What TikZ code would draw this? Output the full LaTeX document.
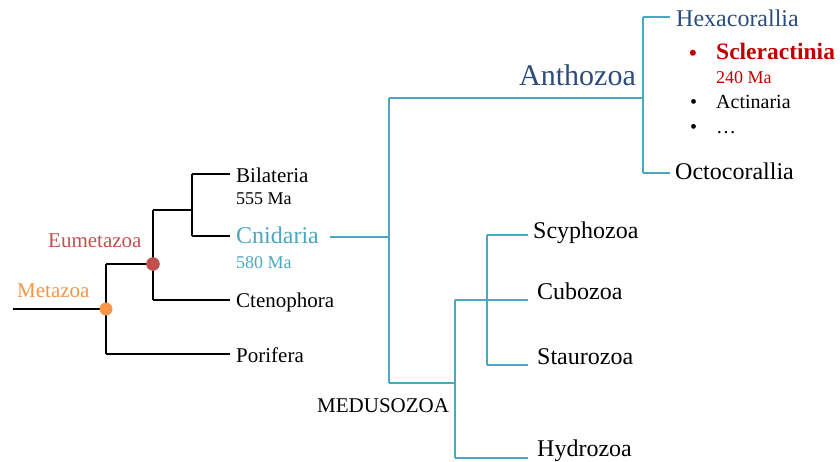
\documentclass[tikz,border=0pt]{standalone}
\usepackage{fontspec}
\setmainfont{Liberation Serif}
\definecolor{tealc}{HTML}{4AA8BE}
\definecolor{navyc}{HTML}{2C4C7E}
\definecolor{redc}{HTML}{C00000}
\definecolor{eumc}{HTML}{C0504D}
\definecolor{metc}{HTML}{F79646}
\begin{document}
\begin{tikzpicture}[x=1pt,y=-1pt,
  blk/.style={draw=black,line width=2.7pt},
  tel/.style={draw=tealc,line width=2.9pt},
  lbl/.style={anchor=base west,inner sep=0pt,font=\fontsize{21}{25}\selectfont},
  big/.style={anchor=base west,inner sep=0pt,font=\fontsize{24}{28}\selectfont},
  sml/.style={anchor=base west,inner sep=0pt,font=\fontsize{18}{22}\selectfont},
  bul/.style={anchor=base west,inner sep=0pt,font=\fontsize{20}{24}\selectfont},
  bulb/.style={anchor=base west,inner sep=0pt,font=\fontsize{22}{26}\selectfont\bfseries}]
\useasboundingbox (0,0) rectangle (840,461);
% junction coordinates
\coordinate (root) at (13,309);
\coordinate (meta) at (106,309);
\coordinate (metaT) at (106,264);
\coordinate (metaB) at (106,354);
\coordinate (eum) at (153,264);
\coordinate (eumT) at (153,210);
\coordinate (eumB) at (153,300);
\coordinate (bc) at (192,210);
\coordinate (bcT) at (192,174);
\coordinate (bcB) at (192,236);
\coordinate (bilE) at (230,174);
\coordinate (cniE) at (230,236);
\coordinate (cteE) at (230,300);
\coordinate (porE) at (230,354);
% cnidaria
\coordinate (cniS) at (330,237);
\coordinate (cn) at (389,237);
\coordinate (cnT) at (389,98);
\coordinate (cnB) at (389,383);
\coordinate (anth) at (643,98);
\coordinate (anthT) at (643,17);
\coordinate (anthB) at (643,173);
\coordinate (hexE) at (670,17);
\coordinate (octE) at (670,173);
\coordinate (med) at (455,383);
\coordinate (medT) at (455,300);
\coordinate (medB) at (455,458);
\coordinate (hydE) at (528,458);
\coordinate (cubE) at (528,300);
\coordinate (sc) at (487,300);
\coordinate (scT) at (487,235);
\coordinate (scB) at (487,365);
\coordinate (scyE) at (528,235);
\coordinate (stauE) at (528,365);
% black tree
\draw[blk] (root) -- (meta);
\draw[blk] (metaT) -- (metaB);
\draw[blk] (metaT) -- (eum);
\draw[blk] (metaB) -- (porE);
\draw[blk] (eumT) -- (eumB);
\draw[blk] (eumB) -- (cteE);
\draw[blk] (eumT) -- (bc);
\draw[blk] (bcT) -- (bcB);
\draw[blk] (bcT) -- (bilE);
\draw[blk] (bcB) -- (cniE);
% teal tree
\draw[tel] (cniS) -- (cn);
\draw[tel] (cnT) -- (cnB);
\draw[tel] (cnT) -- (anth);
\draw[tel] (anthT) -- (anthB);
\draw[tel] (anthT) -- (hexE);
\draw[tel] (anthB) -- (octE);
\draw[tel] (cnB) -- (med);
\draw[tel] (medT) -- (medB);
\draw[tel] (medB) -- (hydE);
\draw[tel] (medT) -- (cubE);
\draw[tel] (scT) -- (scB);
\draw[tel] (scT) -- (scyE);
\draw[tel] (scB) -- (stauE);
% dots
\fill[metc] (meta) circle (6.5pt);
\fill[eumc] (eum) circle (6.8pt);
% labels
\node[lbl,text=metc] (metazoa) at (17,297) {Metazoa};
\node[lbl,text=eumc] (eumetazoa) at (48,247) {Eumetazoa};
\node[lbl] (bilateria) at (236,182) {Bilateria};
\node[sml] (bilage) at (236,204) {555 Ma};
\node[big,text=tealc] (cnidaria) at (236,243) {Cnidaria};
\node[sml,text=tealc] (cniage) at (236,268) {580 Ma};
\node[lbl] (ctenophora) at (236,307) {Ctenophora};
\node[lbl] (porifera) at (236,362) {Porifera};
\node[anchor=base west,inner sep=0pt,font=\fontsize{30}{34}\selectfont,text=navyc] (anthozoa) at (519,85) {Anthozoa};
\node[big,text=navyc] (hexa) at (676,26) {Hexacorallia};
\node[bulb,text=redc] (b1) at (689,60) {•};
\node[anchor=base west,inner sep=0pt,font=\fontsize{23.5}{27}\selectfont\bfseries,text=redc] (scler) at (716,59) {Scleractinia};
\node[sml,text=redc] (sclage) at (716,83) {240 Ma};
\node[bul] (b2) at (690,108) {•};
\node[bul] (actin) at (716,108) {Actinaria};
\node[bul] (b3) at (690,133) {•};
\node[bul] (dots) at (716,133) {…};
\node[big] (octo) at (675,179) {Octocorallia};
\node[big] (scypho) at (533,238) {Scyphozoa};
\node[big] (cubo) at (537,299) {Cubozoa};
\node[big] (stauro) at (537,364) {Staurozoa};
\node[big] (hydro) at (537,456) {Hydrozoa};
\node[lbl] (medusozoa) at (317,412) {MEDUSOZOA};
\end{tikzpicture}
\end{document}
